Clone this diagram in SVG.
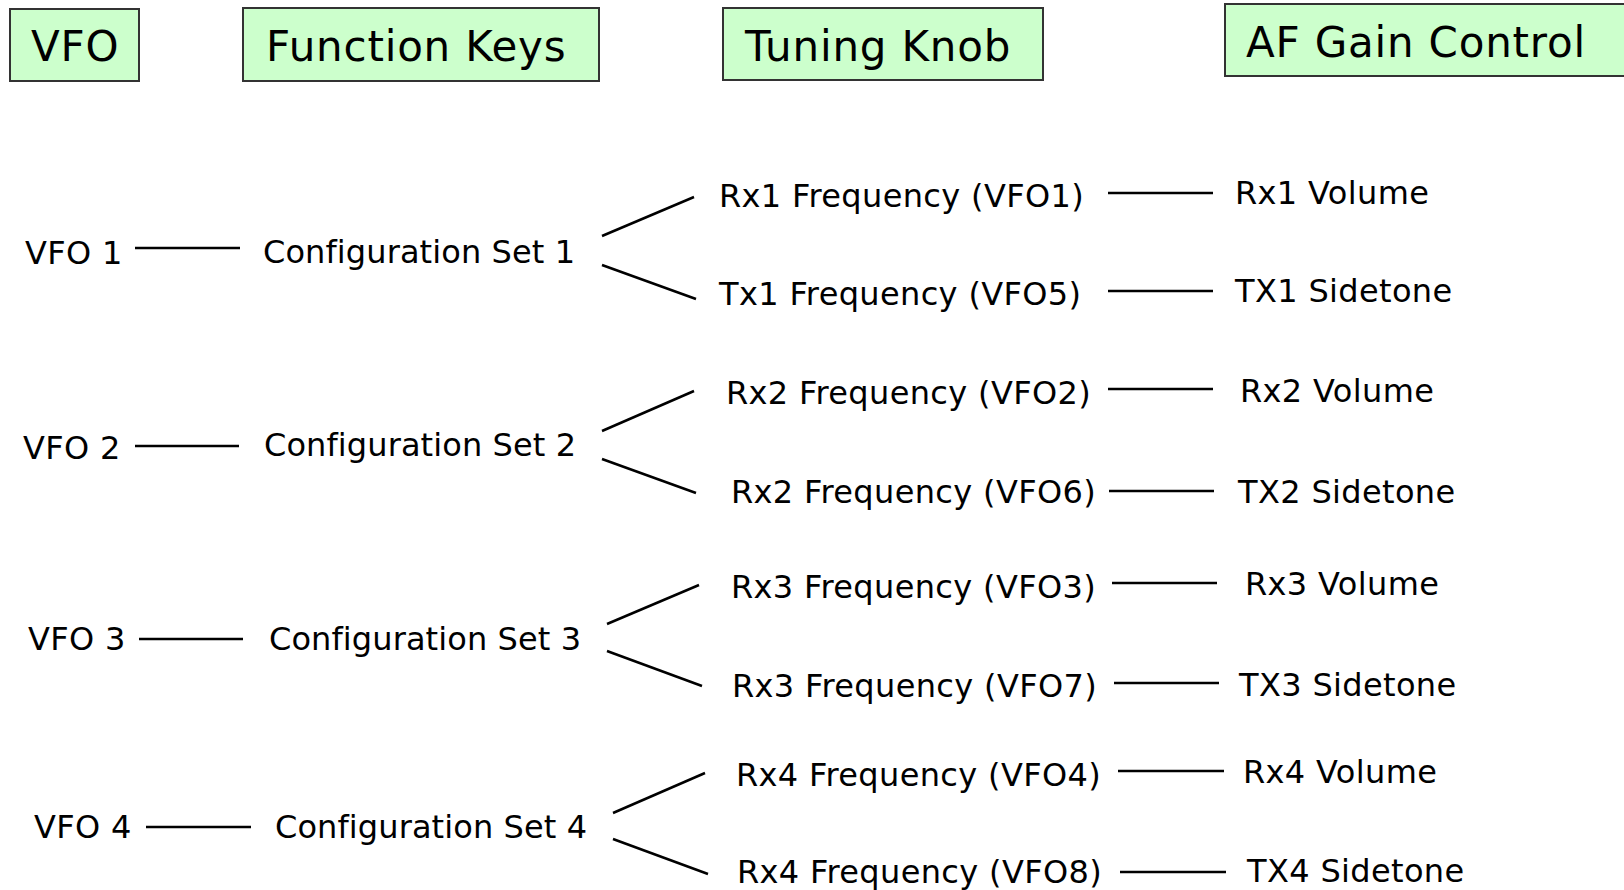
<svg xmlns="http://www.w3.org/2000/svg" width="1624" height="890" viewBox="0 0 1624 890">
<style>
.hbox{fill:#ccffcc;stroke:#333;stroke-width:2}
.h{font-family:"DejaVu Sans",Verdana,sans-serif;font-size:42px;letter-spacing:0.8px;fill:#000}
.t{font-family:"DejaVu Sans",Verdana,sans-serif;font-size:32px;letter-spacing:0.35px;fill:#000}
.cs{letter-spacing:0.1px}
.c line{stroke:#000;stroke-width:2.5}
</style>
<rect width="1624" height="890" fill="#fff"/>
<g id="hdr-vfo"><rect class="hbox" x="10" y="9" width="129" height="72"/><text class="h" x="31" y="61">VFO</text></g>
<g id="hdr-fk"><rect class="hbox" x="243" y="8" width="356" height="73"/><text class="h" x="266" y="61">Function Keys</text></g>
<g id="hdr-tk"><rect class="hbox" x="723" y="8" width="320" height="72"/><text class="h" x="745" y="61">Tuning Knob</text></g>
<g id="hdr-af"><rect class="hbox" x="1225" y="4" width="405" height="72"/><text class="h" x="1246" y="57">AF Gain Control</text></g>

<g class="c" id="connectors">
<line x1="135" y1="248" x2="240" y2="248"/>
<line x1="602" y1="236" x2="694" y2="197"/>
<line x1="602" y1="265" x2="696" y2="299"/>
<line x1="1108" y1="193" x2="1213" y2="193"/>
<line x1="1108" y1="291" x2="1213" y2="291"/>

<line x1="135" y1="446" x2="239" y2="446"/>
<line x1="602" y1="431" x2="694" y2="391"/>
<line x1="602" y1="459" x2="696" y2="493"/>
<line x1="1108" y1="389" x2="1213" y2="389"/>
<line x1="1109" y1="491" x2="1214" y2="491"/>

<line x1="139" y1="639" x2="243" y2="639"/>
<line x1="607" y1="624" x2="699" y2="585"/>
<line x1="607" y1="651" x2="702" y2="686"/>
<line x1="1112" y1="583" x2="1217" y2="583"/>
<line x1="1114" y1="683" x2="1219" y2="683"/>

<line x1="146" y1="827" x2="251" y2="827"/>
<line x1="613" y1="813" x2="705" y2="773"/>
<line x1="613" y1="839" x2="708" y2="874"/>
<line x1="1118" y1="771" x2="1224" y2="771"/>
<line x1="1120" y1="872" x2="1226" y2="872"/>
</g>

<g id="vfo1"><text class="t" x="25" y="264">VFO 1</text></g>
<g id="cs1"><text class="t cs" x="263" y="263">Configuration Set 1</text></g>
<g id="rx1f"><text class="t" x="719" y="207">Rx1 Frequency (VFO1)</text></g>
<g id="tx1f"><text class="t" x="719" y="305">Tx1 Frequency (VFO5)</text></g>
<g id="rx1v"><text class="t" x="1235" y="204">Rx1 Volume</text></g>
<g id="tx1s"><text class="t" x="1235" y="302">TX1 Sidetone</text></g>

<g id="vfo2"><text class="t" x="23" y="459">VFO 2</text></g>
<g id="cs2"><text class="t cs" x="264" y="456">Configuration Set 2</text></g>
<g id="rx2f"><text class="t" x="726" y="404">Rx2 Frequency (VFO2)</text></g>
<g id="rx2f6"><text class="t" x="731" y="503">Rx2 Frequency (VFO6)</text></g>
<g id="rx2v"><text class="t" x="1240" y="402">Rx2 Volume</text></g>
<g id="tx2s"><text class="t" x="1238" y="503">TX2 Sidetone</text></g>

<g id="vfo3"><text class="t" x="28" y="650">VFO 3</text></g>
<g id="cs3"><text class="t cs" x="269" y="650">Configuration Set 3</text></g>
<g id="rx3f"><text class="t" x="731" y="598">Rx3 Frequency (VFO3)</text></g>
<g id="rx3f7"><text class="t" x="732" y="697">Rx3 Frequency (VFO7)</text></g>
<g id="rx3v"><text class="t" x="1245" y="595">Rx3 Volume</text></g>
<g id="tx3s"><text class="t" x="1239" y="696">TX3 Sidetone</text></g>

<g id="vfo4"><text class="t" x="34" y="838">VFO 4</text></g>
<g id="cs4"><text class="t cs" x="275" y="838">Configuration Set 4</text></g>
<g id="rx4f"><text class="t" x="736" y="786">Rx4 Frequency (VFO4)</text></g>
<g id="rx4f8"><text class="t" x="737" y="883">Rx4 Frequency (VFO8)</text></g>
<g id="rx4v"><text class="t" x="1243" y="783">Rx4 Volume</text></g>
<g id="tx4s"><text class="t" x="1247" y="882">TX4 Sidetone</text></g>
</svg>
